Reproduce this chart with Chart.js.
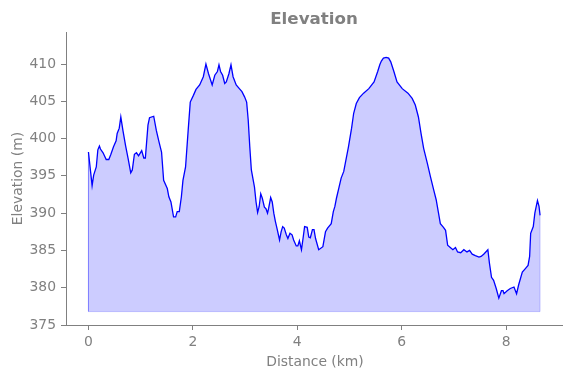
<!DOCTYPE html>
<html>
<head>
<meta charset="utf-8">
<script src="https://cdn.jsdelivr.net/npm/chart.js@4"></script>
<style>
  html, body { margin: 0; padding: 0; background: #fff; }
  #chart { display: block; }
</style>
</head>
<body>
<canvas id="chart" width="571" height="378"></canvas>
<script>
// Data
const distanceKm = [
  0.00, 0.07, 0.10, 0.15, 0.18, 0.21, 0.23, 0.28, 0.34, 0.39, 0.43, 0.48, 0.53, 0.55, 0.59, 0.62,
  0.66, 0.71, 0.76, 0.81, 0.84, 0.88, 0.92, 0.96, 1.02, 1.06, 1.09, 1.14, 1.17, 1.25, 1.30, 1.35,
  1.40, 1.44, 1.51, 1.54, 1.58, 1.63, 1.67, 1.70, 1.74, 1.78, 1.81, 1.86, 1.91, 1.95, 2.01, 2.06,
  2.13, 2.20, 2.25, 2.30, 2.37, 2.42, 2.47, 2.50, 2.53, 2.57, 2.61, 2.64, 2.69, 2.73, 2.77, 2.83,
  2.89, 2.94, 2.99, 3.03, 3.06, 3.09, 3.12, 3.18, 3.21, 3.24, 3.27, 3.30, 3.33, 3.37, 3.40, 3.43,
  3.45, 3.49, 3.52, 3.55, 3.58, 3.61, 3.66, 3.69, 3.72, 3.75, 3.79, 3.82, 3.86, 3.90, 3.93, 3.98,
  4.01, 4.04, 4.08, 4.11, 4.14, 4.19, 4.22, 4.25, 4.29, 4.32, 4.35, 4.41, 4.49, 4.54, 4.58, 4.65,
  4.69, 4.72, 4.75, 4.80, 4.84, 4.89, 4.92, 4.98, 5.04, 5.08, 5.13, 5.19, 5.27, 5.37, 5.47, 5.54,
  5.58, 5.61, 5.65, 5.70, 5.75, 5.79, 5.85, 5.91, 6.01, 6.12, 6.20, 6.26, 6.32, 6.37, 6.42, 6.49,
  6.55, 6.61, 6.66, 6.70, 6.74, 6.80, 6.84, 6.88, 6.93, 6.98, 7.03, 7.07, 7.13, 7.19, 7.25, 7.30,
  7.35, 7.41, 7.48, 7.52, 7.57, 7.65, 7.68, 7.72, 7.76, 7.81, 7.86, 7.91, 7.94, 7.96, 8.02, 8.08,
  8.15, 8.20, 8.24, 8.31, 8.36, 8.42, 8.45, 8.47, 8.52, 8.55, 8.60, 8.63, 8.65
];
const elevationM = [
  398.2, 393.7, 395.1, 396.2, 398.5, 399.0, 398.6, 398.1, 397.2, 397.2, 397.9, 398.9, 399.7, 400.7, 401.4, 402.9,
  401.1, 399.1, 397.3, 395.4, 395.8, 397.9, 398.1, 397.7, 398.4, 397.4, 397.4, 401.8, 402.8, 403.0, 401.1, 399.6,
  398.2, 394.4, 393.3, 392.2, 391.5, 389.5, 389.5, 390.2, 390.2, 392.2, 394.4, 396.2, 401.1, 404.9, 405.8, 406.6,
  407.2, 408.3, 410.0, 408.7, 407.2, 408.5, 409.0, 409.9, 409.0, 408.5, 407.4, 407.6, 408.7, 409.9, 408.3, 407.2,
  406.7, 406.3, 405.6, 404.9, 402.5, 398.9, 395.8, 393.5, 391.5, 390.1, 390.9, 392.6, 392.0, 390.8, 390.6, 390.0,
  390.6, 392.1, 391.5, 390.0, 388.9, 388.0, 386.4, 387.5, 388.2, 388.0, 387.1, 386.6, 387.3, 387.1, 386.4, 385.6,
  385.6, 386.3, 385.1, 386.6, 388.2, 388.1, 386.8, 386.7, 387.8, 387.8, 386.6, 385.1, 385.5, 387.5, 388.0, 388.6,
  390.2, 390.9, 392.0, 393.5, 394.7, 395.6, 396.7, 398.9, 401.4, 403.4, 404.7, 405.5, 406.1, 406.7, 407.6, 409.0,
  409.9, 410.4, 410.8, 410.9, 410.8, 410.3, 409.0, 407.6, 406.7, 406.1, 405.4, 404.5, 402.9, 400.7, 398.7, 396.7,
  394.9, 393.2, 391.8, 390.2, 388.6, 388.1, 387.7, 385.7, 385.4, 385.1, 385.4, 384.8, 384.7, 385.1, 384.8, 385.0,
  384.5, 384.3, 384.1, 384.2, 384.5, 385.1, 383.3, 381.4, 381.0, 379.9, 378.6, 379.6, 379.6, 379.2, 379.6, 379.9,
  380.1, 379.2, 380.4, 382.1, 382.5, 383.0, 384.2, 387.3, 388.2, 390.0, 391.7, 390.9, 389.7
];
const xTicks = [0, 2, 4, 6, 8];
const yTicks = [375, 380, 385, 390, 395, 400, 405, 410];
const fillBase = 376.8;

const gray = '#808080';
const fontFamily = '"DejaVu Sans", sans-serif';

const profilePoints = distanceKm.map((d, i) => ({ x: d, y: elevationM[i] }));
const lastIdx = distanceKm.length - 1;
// outline of the filled polygon (left, bottom and right edges)
const fillEdge = [
  { x: distanceKm[0], y: elevationM[0] },
  { x: distanceKm[0], y: fillBase },
  { x: distanceKm[lastIdx], y: fillBase },
  { x: distanceKm[lastIdx], y: elevationM[lastIdx] }
];

// Title and axis titles
const labelPlugin = {
  id: 'labelPlugin',
  afterDraw(chart) {
    const { ctx, chartArea } = chart;
    const cx = (chartArea.left + chartArea.right) / 2;
    const cy = (chartArea.top + chartArea.bottom) / 2;
    ctx.save();
    ctx.fillStyle = gray;
    ctx.textAlign = 'center';
    ctx.textBaseline = 'alphabetic';
    ctx.font = 'bold 16.7px ' + fontFamily;
    ctx.fillText('Elevation', cx, 24);
    ctx.font = '13.9px ' + fontFamily;
    ctx.fillText('Distance (km)', cx + 1, 366);
    ctx.translate(22, cy);
    ctx.rotate(-Math.PI / 2);
    ctx.fillText('Elevation (m)', 0, 0);
    ctx.restore();
  }
};

const axisGrid = { drawOnChartArea: false, drawTicks: true, tickLength: 5, color: gray, lineWidth: 1 };

new Chart(document.getElementById('chart'), {
  type: 'line',
  data: {
    datasets: [
      {
        data: profilePoints,
        borderColor: '#0000ff',
        borderWidth: 1.3,
        backgroundColor: 'rgba(0, 0, 255, 0.2)',
        fill: { value: fillBase },
        pointRadius: 0,
        tension: 0,
        order: 1
      },
      {
        data: fillEdge,
        borderColor: 'rgba(0, 0, 255, 0.2)',
        borderWidth: 1,
        fill: false,
        pointRadius: 0,
        tension: 0,
        order: 2
      }
    ]
  },
  options: {
    responsive: false,
    animation: false,
    layout: { padding: { top: 32, right: 9, left: 0, bottom: 0 } },
    plugins: { legend: { display: false }, tooltip: { enabled: false }, title: { display: false } },
    scales: {
      x: {
        type: 'linear',
        min: -0.43,
        max: 9.07,
        afterBuildTicks: s => { s.ticks = xTicks.map(v => ({ value: v })); },
        afterFit: s => { s.height = 53; },
        grid: axisGrid,
        border: { color: gray, width: 1 },
        ticks: { color: gray, font: { family: fontFamily, size: 13.9 }, padding: 4, autoSkip: false, maxRotation: 0, callback: v => String(v) }
      },
      y: {
        min: 375,
        max: 414.3,
        afterBuildTicks: s => { s.ticks = yTicks.map(v => ({ value: v })); },
        afterFit: s => { s.width = 66; },
        grid: axisGrid,
        border: { color: gray, width: 1 },
        ticks: { color: gray, font: { family: fontFamily, size: 13.9 }, padding: 5, autoSkip: false, callback: v => String(v) }
      }
    }
  },
  plugins: [labelPlugin]
});
</script>
</body>
</html>
